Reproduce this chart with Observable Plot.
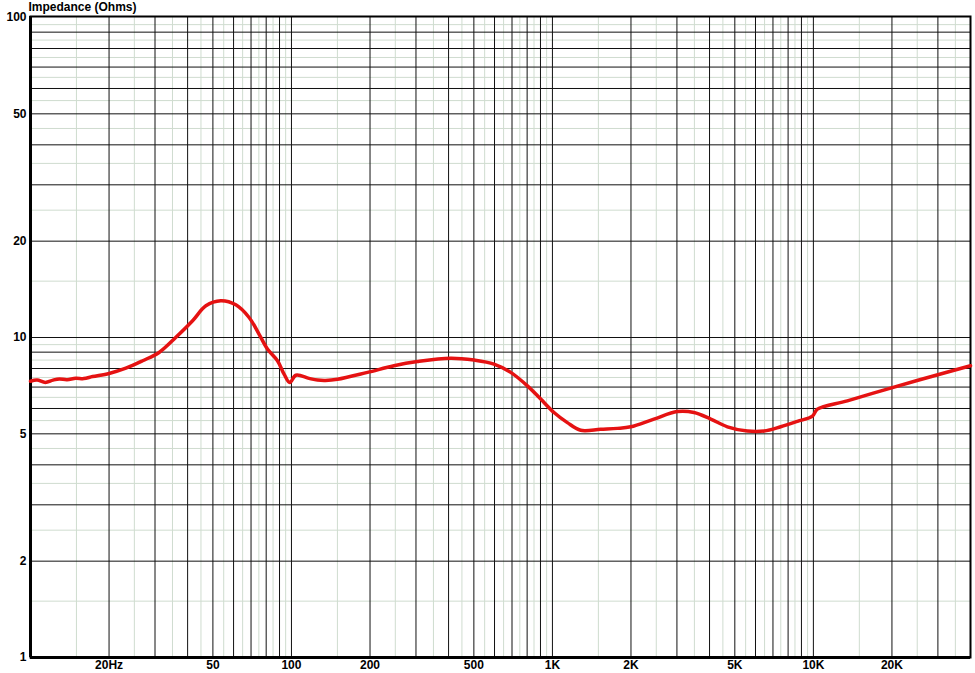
<!DOCTYPE html>
<html><head><meta charset="utf-8">
<script src="https://cdn.jsdelivr.net/npm/d3@7"></script>
<script src="https://cdn.jsdelivr.net/npm/@observablehq/plot@0.6"></script>
<style>
body{margin:0;background:#fff;overflow:hidden}
svg{display:block}
</style>
</head><body><div id="chart"></div>
<script>
// Impedance curve (frequency in Hz, impedance in Ohms)
const freqHz = [10, 10.6, 11.4, 12.2, 12.9, 13.8, 14.9, 16, 17.3, 20, 23.2, 26.9, 31.1, 36, 41.8, 47, 53.6, 61.2, 68.8, 75.1, 80.9, 88.4, 93.7, 98.5, 104, 116.8, 125.8, 135, 150, 195.6, 247, 304, 407, 501, 597, 692, 802, 902, 1014, 1141, 1283, 1531, 1774, 1996, 2449, 3013, 3487, 4043, 4683, 5585, 6470, 7494, 8687, 9916, 10360, 13490, 19770, 28130, 40000];
const impedanceOhms = [7.3, 7.36, 7.24, 7.36, 7.42, 7.38, 7.46, 7.44, 7.55, 7.72, 8.02, 8.46, 8.98, 10, 11.28, 12.56, 13.02, 12.65, 11.55, 10.25, 9.2, 8.46, 7.68, 7.23, 7.62, 7.45, 7.36, 7.34, 7.4, 7.78, 8.16, 8.41, 8.62, 8.5, 8.26, 7.78, 7.06, 6.42, 5.83, 5.42, 5.13, 5.17, 5.2, 5.26, 5.56, 5.87, 5.83, 5.56, 5.26, 5.1, 5.1, 5.26, 5.47, 5.68, 5.97, 6.34, 6.95, 7.54, 8.16];

const xTickValues = [20, 50, 100, 200, 500, 1000, 2000, 5000, 10000, 20000];
const xTickLabels = ["20Hz", "50", "100", "200", "500", "1K", "2K", "5K", "10K", "20K"];
const yTickValues = [1, 2, 5, 10, 20, 50, 100];
const yTickLabels = ["1", "2", "5", "10", "20", "50", "100"];
const title = "Impedance (Ohms)";

// grid positions: integer multiples per decade (major) and half-steps (minor)
const xMajorGrid = [], xMinorGrid = [];
for (const d of [10, 100, 1000, 10000]) {
  for (let k = 1; k <= 9; k++) {
    if (d * k > 10 && d * k < 40000) xMajorGrid.push(d * k);
    if (d * (k + 0.5) < 40000) xMinorGrid.push(d * (k + 0.5));
  }
}
const yMajorGrid = [], yMinorGrid = [];
for (const d of [1, 10]) {
  for (let k = 1; k <= 9; k++) {
    if (d * k > 1) yMajorGrid.push(d * k);
    yMinorGrid.push(d * (k + 0.5));
  }
}

const curve = freqHz.map((f, i) => ({f, z: impedanceOhms[i]}));
const xLabels = xTickValues.map((v, i) => ({v, t: xTickLabels[i]}));
const yLabels = yTickValues.map((v, i) => ({v, t: yTickLabels[i]}));
const font = "'Liberation Sans', Arial, sans-serif";

const chart = Plot.plot({
  width: 975,
  height: 673,
  marginTop: 16,
  marginLeft: 30,
  marginRight: 5,
  marginBottom: 16,
  style: {fontFamily: font, fontWeight: "bold", fontSize: "12px", color: "#000", background: "#fff"},
  x: {type: "log", domain: [10, 40000], range: [30, 970], axis: null},
  y: {type: "log", domain: [1, 100], range: [657, 17], axis: null},
  marks: [
    Plot.ruleX(xMinorGrid, {stroke: "#cfdccf", strokeWidth: 1}),
    Plot.ruleY(yMinorGrid, {stroke: "#cfdccf", strokeWidth: 1}),
    Plot.ruleX(xMajorGrid, {stroke: "#111", strokeWidth: 1}),
    Plot.ruleY(yMajorGrid, {stroke: "#111", strokeWidth: 1}),
    Plot.frame({stroke: "#000", strokeWidth: 2}),
    Plot.ruleX([10], {stroke: "#000", strokeWidth: 3}),
    Plot.ruleY([1], {stroke: "#000", strokeWidth: 3}),
    Plot.line(curve, {x: "f", y: "z", stroke: "#e51212", strokeWidth: 3.5, curve: "catmull-rom", strokeLinejoin: "round"}),
    Plot.text(xLabels, {x: "v", frameAnchor: "bottom", dy: 8, text: "t", textAnchor: "middle", lineAnchor: "middle", fontSize: 12, fontWeight: "bold", fill: "#000"}),
    Plot.text(yLabels, {y: "v", frameAnchor: "left", dx: -4, text: "t", textAnchor: "end", lineAnchor: "middle", fontSize: 12, fontWeight: "bold", fill: "#000"}),
    Plot.text([title], {frameAnchor: "top-left", dx: -2, dy: -9, text: (d) => d, textAnchor: "start", lineAnchor: "middle", fontSize: 12, fontWeight: "bold", fill: "#000"})
  ]
});
document.getElementById("chart").append(chart);
</script>
</body></html>
